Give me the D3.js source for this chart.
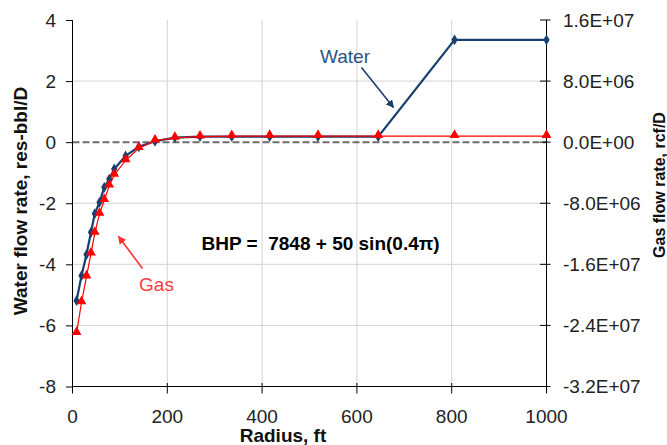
<!DOCTYPE html>
<html><head><meta charset="utf-8">
<script src="https://cdn.jsdelivr.net/npm/d3@7"></script>
<style>
html,body{margin:0;padding:0;background:#fff;}
svg{display:block;font-family:"Liberation Sans",Arial,sans-serif;}
</style></head>
<body>
<svg id="chart" width="667" height="445"></svg>
<script>
// ---- data ----
const radius = [8.5, 19, 29.5, 39, 47, 57, 67, 77.5, 88, 112, 140, 174, 216, 269, 336, 416, 518, 645, 806, 1000];
const waterRate = [-5.19, -4.37, -3.68, -2.95, -2.34, -1.97, -1.48, -1.21, -0.88, -0.45, -0.15, 0.03, 0.15, 0.18, 0.18, 0.18, 0.18, 0.18, 3.35, 3.35];
const gasRate = [-2.50e7, -2.10e7, -1.76e7, -1.46e7, -1.19e7, -9.4e6, -7.6e6, -5.7e6, -4.3e6, -2.4e6, -8.0e5, 2.0e5, 5.6e5, 7.2e5, 7.8e5, 8.0e5, 8.0e5, 8.0e5, 8.0e5, 8.0e5];
const xTicks = [0, 200, 400, 600, 800, 1000];
const yLeftTicks = [4, 2, 0, -2, -4, -6, -8];
const yRightTicks = [1.6e7, 8e6, 0, -8e6, -1.6e7, -2.4e7, -3.2e7];
const yRightLabels = ["1.6E+07", "8.0E+06", "0.0E+00", "-8.0E+06", "-1.6E+07", "-2.4E+07", "-3.2E+07"];

const svg = d3.select("#chart");
const L = 72.5, R = 546.5, T = 20, B = 386.5;
const x = d3.scaleLinear().domain([0, 1000]).range([L, R]);
const yL = d3.scaleLinear().domain([-8, 4]).range([B, T]);
const yR = d3.scaleLinear().domain([-3.2e7, 1.6e7]).range([B, T]);

// gridlines
const grid = svg.append("g");
grid.selectAll("line.v").data(xTicks.filter(d => d > 0 && d < 1000)).join("line")
  .attr("x1", d => x(d)).attr("x2", d => x(d)).attr("y1", T).attr("y2", B)
  .attr("stroke", "#d4d4d4").attr("stroke-width", 1);
grid.selectAll("line.h").data(yLeftTicks.filter(d => d !== 0 && d > -8 && d < 4)).join("line")
  .attr("x1", L).attr("x2", R).attr("y1", d => yL(d)).attr("y2", d => yL(d))
  .attr("stroke", "#d4d4d4").attr("stroke-width", 1);
// zero dashed line
svg.append("line").attr("x1", L).attr("x2", R).attr("y1", yL(0)).attr("y2", yL(0))
  .attr("stroke", "#6e6e6e").attr("stroke-width", 2).attr("stroke-dasharray", "7,3");

const fontTick = 19;
// bottom axis
const xAxis = svg.append("g").attr("transform", `translate(0,${B})`)
  .call(d3.axisBottom(x).tickValues(xTicks).tickSize(0).tickPadding(0));
xAxis.select(".domain").remove();
xAxis.selectAll(".tick text").remove();
svg.append("line").attr("x1", L).attr("x2", R).attr("y1", B).attr("y2", B).attr("stroke", "#000");
svg.selectAll("line.xt").data(xTicks).join("line").attr("class", "xt")
  .attr("x1", d => x(d)).attr("x2", d => x(d)).attr("y1", B - 3.5).attr("y2", B + 7).attr("stroke", "#000");
svg.selectAll("text.xl").data(xTicks).join("text").attr("class", "xl")
  .attr("x", d => x(d)).attr("y", 422.5).attr("text-anchor", "middle")
  .attr("font-size", fontTick).attr("fill", "#222").text(d => d);

// left axis
const yAxisL = svg.append("g").attr("transform", `translate(${L},0)`)
  .call(d3.axisLeft(yL).tickValues(yLeftTicks).tickSize(6.5).tickPadding(0));
yAxisL.select(".domain").attr("d", `M0,${T}V${B}`).attr("stroke", "#000");
yAxisL.selectAll(".tick line").attr("stroke", "#000");
yAxisL.selectAll(".tick text").remove();
svg.selectAll("text.yl").data(yLeftTicks).join("text").attr("class", "yl")
  .attr("x", 56).attr("y", d => yL(d)).attr("dy", "0.36em").attr("text-anchor", "end")
  .attr("font-size", fontTick).attr("fill", "#222").text(d => d);

// right axis
const yAxisR = svg.append("g").attr("transform", `translate(${R},0)`)
  .call(d3.axisRight(yR).tickValues(yRightTicks).tickSize(0));
yAxisR.select(".domain").attr("d", `M0,${T}V${B}`).attr("stroke", "#000");
yAxisR.selectAll(".tick text").remove();
svg.selectAll("line.yrt").data(yRightTicks).join("line").attr("class", "yrt")
  .attr("x1", R - 6.5).attr("x2", R + 4).attr("y1", d => yR(d)).attr("y2", d => yR(d)).attr("stroke", "#000");
svg.selectAll("text.yr").data(yRightTicks).join("text").attr("class", "yr")
  .attr("x", 563).attr("y", d => yR(d)).attr("dy", "0.36em").attr("text-anchor", "start")
  .attr("font-size", fontTick).attr("fill", "#222").text((d, i) => yRightLabels[i]);

// axis titles
svg.append("text").attr("x", 283).attr("y", 441.5).attr("text-anchor", "middle")
  .attr("font-size", 19).attr("font-weight", "bold").attr("fill", "#111").text("Radius, ft");
svg.append("text").attr("transform", "translate(27,201) rotate(-90)").attr("text-anchor", "middle")
  .attr("font-size", 19).attr("font-weight", "bold").attr("fill", "#111").text("Water flow rate, res-bbl/D");
svg.append("text").attr("transform", "translate(665,185) rotate(-90)").attr("text-anchor", "middle")
  .attr("font-size", 16).attr("font-weight", "bold").attr("fill", "#111").text("Gas flow rate, rcf/D");

// series
const waterColor = "#17406f", gasColor = "#ff0000";
const waterData = radius.map((r, i) => [r, waterRate[i]]);
const gasData = radius.map((r, i) => [r, gasRate[i]]);
svg.append("path").datum(waterData)
  .attr("d", d3.line().x(d => x(d[0])).y(d => yL(d[1])))
  .attr("fill", "none").attr("stroke", waterColor).attr("stroke-width", 2.2);
svg.selectAll("path.wm").data(waterData).join("path").attr("class", "wm")
  .attr("transform", d => `translate(${x(d[0])},${yL(d[1])})`)
  .attr("d", d3.symbol(d3.symbolDiamond, 34)).attr("fill", waterColor);
svg.append("path").datum(gasData)
  .attr("d", d3.line().x(d => x(d[0])).y(d => yR(d[1])))
  .attr("fill", "none").attr("stroke", gasColor).attr("stroke-width", 1.2);
svg.selectAll("path.gm").data(gasData).join("path").attr("class", "gm")
  .attr("transform", d => `translate(${x(d[0])},${yR(d[1]) - 1})`)
  .attr("d", d3.symbol(d3.symbolTriangle, 42)).attr("fill", gasColor);

// annotations
const defs = svg.append("defs");
function marker(id, color) {
  defs.append("marker").attr("id", id).attr("viewBox", "0 0 10 10").attr("refX", 9).attr("refY", 5)
    .attr("markerWidth", 5).attr("markerHeight", 5).attr("orient", "auto")
    .append("path").attr("d", "M0,0L10,5L0,10z").attr("fill", color);
}
marker("aw", "#1a3f6c");
marker("ag", "#ff3030");
svg.append("text").attr("x", 345).attr("y", 63).attr("text-anchor", "middle")
  .attr("font-size", 19).attr("fill", "#2b5283").text("Water");
svg.append("line").attr("x1", 361.5).attr("y1", 67.5).attr("x2", 393.5).attr("y2", 107.5)
  .attr("stroke", "#1a3f6c").attr("stroke-width", 1.6).attr("marker-end", "url(#aw)");
svg.append("text").attr("x", 156.5).attr("y", 291).attr("text-anchor", "middle")
  .attr("font-size", 19).attr("fill", "#ff3b3b").text("Gas");
svg.append("line").attr("x1", 142.5).attr("y1", 268.5).attr("x2", 118.5).attr("y2", 236.5)
  .attr("stroke", "#ff3030").attr("stroke-width", 1.6).attr("marker-end", "url(#ag)");
svg.append("text").attr("x", 201.5).attr("y", 250).attr("xml:space", "preserve").style("white-space", "pre")
  .attr("font-size", 19).attr("font-weight", "bold").attr("fill", "#000").text("BHP =  7848 + 50 sin(0.4\u03c0)");
</script>
</body></html>
